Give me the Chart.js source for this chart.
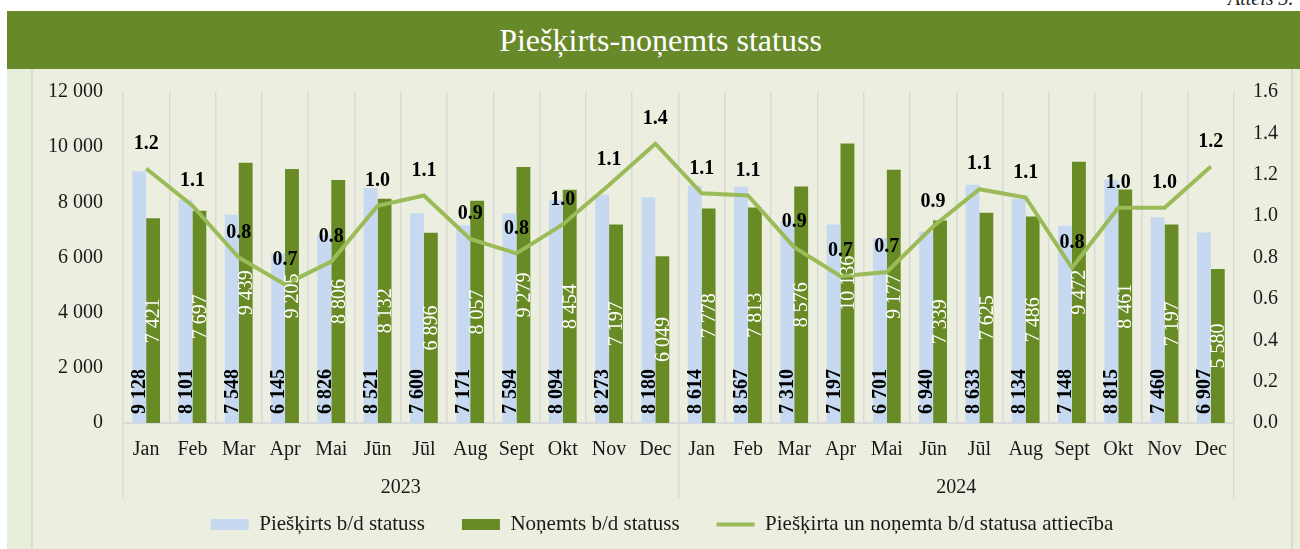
<!DOCTYPE html>
<html>
<head>
<meta charset="utf-8">
<script src="https://cdn.jsdelivr.net/npm/chart.js@4.4.1/dist/chart.umd.min.js"></script>
<style>
  html, body { margin: 0; padding: 0; background: #fff; width: 1300px; height: 549px; overflow: hidden; }
  #caption { position: absolute; left: 1228px; top: -13px; font: italic 20px "Liberation Serif", serif; color: #222; white-space: nowrap; }
  #title { position: absolute; left: 7px; top: 11px; width: 1307px; height: 58px; background: #68892A;
           color: #fff; font: 32px "Liberation Serif", serif; text-align: center; line-height: 58px; }
  #panel { position: absolute; left: 7px; top: 69px; width: 1300px; height: 480px; background: #E7EFDA; }
  #box { position: absolute; left: 24px; top: 0; width: 1258px; height: 480px; background: #ECEFDF;
         border-left: 2px solid #D9D9D9; border-right: 2px solid #D9D9D9; }
</style>
</head>
<body>
<div id="caption">Attēls 3.</div>
<div id="title">Piešķirts-noņemts statuss</div>
<div id="panel"><div id="box"><canvas id="chart" width="1258" height="480"></canvas></div></div>
<script>
// dati no attēla
const months = ['Jan', 'Feb', 'Mar', 'Apr', 'Mai', 'Jūn', 'Jūl', 'Aug', 'Sept', 'Okt', 'Nov', 'Dec',
                'Jan', 'Feb', 'Mar', 'Apr', 'Mai', 'Jūn', 'Jūl', 'Aug', 'Sept', 'Okt', 'Nov', 'Dec'];
const years = ['2023', '2024'];
const pieskirts = [9128, 8101, 7548, 6145, 6826, 8521, 7600, 7171, 7594, 8094, 8273, 8180,
                   8614, 8567, 7310, 7197, 6701, 6940, 8633, 8134, 7148, 8815, 7460, 6907];
const nonemts = [7421, 7697, 9439, 9205, 8806, 8132, 6896, 8057, 9279, 8454, 7197, 6049,
                 7778, 7813, 8576, 10136, 9177, 7339, 7625, 7486, 9472, 8461, 7197, 5580];
const attieciba = [1.23, 1.05, 0.80, 0.67, 0.78, 1.05, 1.10, 0.89, 0.82, 0.96, 1.15, 1.35,
                   1.11, 1.10, 0.85, 0.71, 0.73, 0.95, 1.13, 1.09, 0.75, 1.04, 1.04, 1.24];
const attiecibaLabels = ['1.2', '1.1', '0.8', '0.7', '0.8', '1.0', '1.1', '0.9', '0.8', '1.0', '1.1', '1.4',
                         '1.1', '1.1', '0.9', '0.7', '0.7', '0.9', '1.1', '1.1', '0.8', '1.0', '1.0', '1.2'];

const FONT = '"Liberation Serif", "Times New Roman", serif';
const GRID = '#D9D9D9';
const NBSP = '\u00A0';

function fmt(v) {
    return String(v).replace(/\B(?=(\d{3})+(?!\d))/g, ' ');
}

// vērtību uzraksti uz stabiņiem un līnijas
const labelPlugin = {
    id: 'valueLabels',
    afterDatasetsDraw(chart) {
        const ctx = chart.ctx;
        ctx.save();
        ctx.textBaseline = 'middle';

        ctx.font = 'bold 20px ' + FONT;
        chart.getDatasetMeta(0).data.forEach((bar, i) => {
            ctx.save();
            ctx.translate(bar.x, bar.base - 9);
            ctx.rotate(-Math.PI / 2);
            ctx.textAlign = 'left';
            ctx.fillStyle = '#000';
            ctx.fillText(fmt(pieskirts[i]), 0, 1);
            ctx.restore();
        });

        ctx.font = '20px ' + FONT;
        chart.getDatasetMeta(1).data.forEach((bar, i) => {
            ctx.save();
            ctx.translate(bar.x, (bar.y + bar.base) / 2);
            ctx.rotate(-Math.PI / 2);
            ctx.textAlign = 'center';
            ctx.fillStyle = '#fff';
            ctx.fillText(fmt(nonemts[i]), 0, 1);
            ctx.restore();
        });

        ctx.font = 'bold 20px ' + FONT;
        ctx.textAlign = 'center';
        ctx.fillStyle = '#000';
        chart.getDatasetMeta(2).data.forEach((pt, i) => {
            ctx.fillText(attiecibaLabels[i], pt.x, pt.y - 25);
        });
        ctx.restore();
    }
};

Chart.defaults.font.family = FONT;
Chart.defaults.font.size = 20;
Chart.defaults.color = '#1a1a1a';

const ctx = document.getElementById('chart').getContext('2d');
new Chart(ctx, {
    type: 'bar',
    data: {
        labels: months,
        datasets: [{
            label: 'Piešķirts b/d statuss',
            data: pieskirts,
            backgroundColor: '#C6D9F0',
            yAxisID: 'y',
            order: 1,
            categoryPercentage: 0.6,
            barPercentage: 1.0
        }, {
            label: 'Noņemts b/d statuss',
            data: nonemts,
            backgroundColor: '#698B26',
            yAxisID: 'y',
            order: 1,
            categoryPercentage: 0.6,
            barPercentage: 1.0
        }, {
            type: 'line',
            label: 'Piešķirta un noņemta b/d statusa attiecība',
            data: attieciba,
            borderColor: '#9BBB59',
            backgroundColor: '#9BBB59',
            borderWidth: 4,
            pointRadius: 0,
            tension: 0,
            yAxisID: 'y1',
            order: 0
        }]
    },
    options: {
        responsive: false,
        animation: false,
        devicePixelRatio: 1,
        layout: { padding: { top: 23, left: 0, right: 0, bottom: 4 } },
        scales: {
            x: {
                type: 'category',
                offset: true,
                grid: {
                    offset: true,
                    color: GRID,
                    lineWidth: 1.5,
                    drawTicks: true,
                    tickLength: 45,
                    tickColor: c => (c.index === undefined || c.index % 12 === 0) ? GRID : 'rgba(0,0,0,0)',
                    tickWidth: 1.5
                },
                border: { display: true, color: GRID, width: 2 },
                ticks: { autoSkip: false, maxRotation: 0, padding: -30 },
                afterFit: s => { s.height = 45; }
            },
            x2: {
                type: 'category',
                labels: years,
                position: 'bottom',
                offset: true,
                grid: {
                    offset: true,
                    drawOnChartArea: false,
                    color: GRID,
                    lineWidth: 1.5,
                    tickLength: 30
                },
                border: { display: false },
                ticks: { padding: -22 },
                afterFit: s => { s.height = 30; }
            },
            y: {
                position: 'left',
                min: 0,
                max: 12000,
                ticks: { stepSize: 2000, padding: 4, callback: v => fmt(v) },
                grid: { display: false, tickLength: 16 },
                border: { display: false },
                afterFit: s => { s.width = 90; }
            },
            y1: {
                position: 'right',
                min: 0,
                max: 1.6,
                ticks: { stepSize: 0.2, padding: 4, callback: v => v.toFixed(1) },
                grid: { display: false, tickLength: 15 },
                border: { display: false },
                afterFit: s => { s.width = 57; }
            }
        },
        plugins: {
            tooltip: { enabled: false },
            legend: {
                position: 'bottom',
                labels: {
                    usePointStyle: true,
                    pointStyleWidth: 38,
                    boxHeight: 11,
                    padding: 16,
                    color: '#1a1a1a',
                    font: { family: FONT, size: 21 },
                    sort: (a, b) => a.datasetIndex - b.datasetIndex,
                    generateLabels: chart => {
                        const items = Chart.defaults.plugins.legend.labels.generateLabels(chart);
                        items.forEach(it => {
                            if (it.datasetIndex === 2) {
                                it.pointStyle = 'line';
                                it.lineWidth = 4;
                                it.strokeStyle = '#9BBB59';
                            } else {
                                it.pointStyle = 'rect';
                                it.lineWidth = 0;
                                it.text = it.text + NBSP.repeat(4);
                            }
                        });
                        return items;
                    }
                }
            }
        }
    },
    plugins: [labelPlugin]
});
</script>
</body>
</html>
